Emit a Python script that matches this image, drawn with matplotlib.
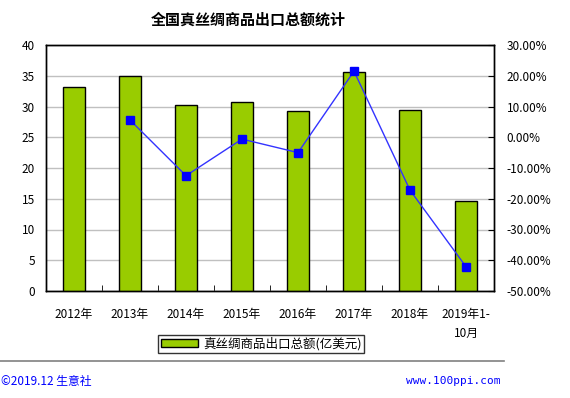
import matplotlib
matplotlib.use("Agg")
import matplotlib.pyplot as plt
import numpy as np
from matplotlib.lines import Line2D

plt.rcParams['font.family'] = ['Noto Sans CJK SC', 'DejaVu Sans']

categories = ["2012年", "2013年", "2014年", "2015年", "2016年", "2017年", "2018年", "2019年1-\n10月"]
export_values = [33.1, 35.0, 30.2, 30.7, 29.2, 35.6, 29.5, 14.6]
growth_cats = [1, 2, 3, 4, 5, 6, 7]
growth_values = [5.6, -12.5, -0.6, -5.0, 21.5, -17.2, -42.1]
left_ticks = [0, 5, 10, 15, 20, 25, 30, 35, 40]
right_ticks = [-50, -40, -30, -20, -10, 0, 10, 20, 30]

fig = plt.figure(figsize=(5.7, 3.98), dpi=100)
ax = fig.add_axes([46/570, 1-291/398, (494-46)/570, (291-45)/398])
x = np.arange(len(categories))
ax.bar(x, export_values, width=0.39, color='#99cc00', edgecolor='black', linewidth=1.0,
       zorder=3, label='真丝绸商品出口总额(亿美元)')
ax.set_ylim(0, 40)
ax.set_xlim(-0.5, len(categories) - 0.5)
ax.set_yticks(left_ticks)
ax.set_yticklabels([str(t) for t in left_ticks], fontsize=8.5)
ax.yaxis.grid(True, color='#c0c0c0', linewidth=1.0, zorder=0)
ax.set_axisbelow(True)
ax.tick_params(axis='y', length=0, pad=8)
ax.set_xticks(x)
ax.set_xticklabels(categories, fontsize=8.5, linespacing=1.6, va='top')
ax.tick_params(axis='x', length=0, pad=12)
ax.set_xticks(np.arange(-0.5, len(categories), 1), minor=True)
ax.tick_params(axis='x', which='minor', direction='in', length=4, color='black')
for s in ax.spines.values():
    s.set_color('black')
    s.set_linewidth(1.0)

ax2 = ax.twinx()
ax2.plot(growth_cats, growth_values, color='#3333ff', linewidth=1.0, marker='s',
         markersize=6, markerfacecolor='#0000ff', markeredgecolor='#0000ff', zorder=4)
ax2.set_ylim(-50, 30)
ax2.set_yticks(right_ticks)
ax2.set_yticklabels([f"{t:.2f}%" for t in right_ticks], fontsize=8.5)
ax2.tick_params(axis='y', direction='in', length=4, pad=9)
for s in ax2.spines.values():
    s.set_color('black')
    s.set_linewidth(1.0)

fig.text(248/570, 1-20/398, "全国真丝绸商品出口总额统计", ha='center', va='center',
         fontsize=10.8, fontweight='bold')

leg = ax.legend(loc='center', bbox_to_anchor=(261/570, 1-344/398),
                bbox_transform=fig.transFigure, fontsize=9, frameon=True,
                fancybox=False, edgecolor='black', handlelength=3.0, handleheight=0.6,
                borderpad=0.2, handletextpad=0.4)
leg.get_frame().set_linewidth(1.0)

fig.add_artist(Line2D([0, 504/570], [1-361/398, 1-361/398], color='#808080', linewidth=1.2,
                      transform=fig.transFigure))
fig.text(1/570, 1-381/398, "©2019.12 生意社", ha='left', va='center', fontsize=8.5, color='#0000ff')
fig.text(500/570, 1-381/398, "www.100ppi.com", ha='right', va='center', fontsize=8, color='#0000ff',
         family=['DejaVu Sans Mono'])

fig.savefig("out.png", dpi=100)
